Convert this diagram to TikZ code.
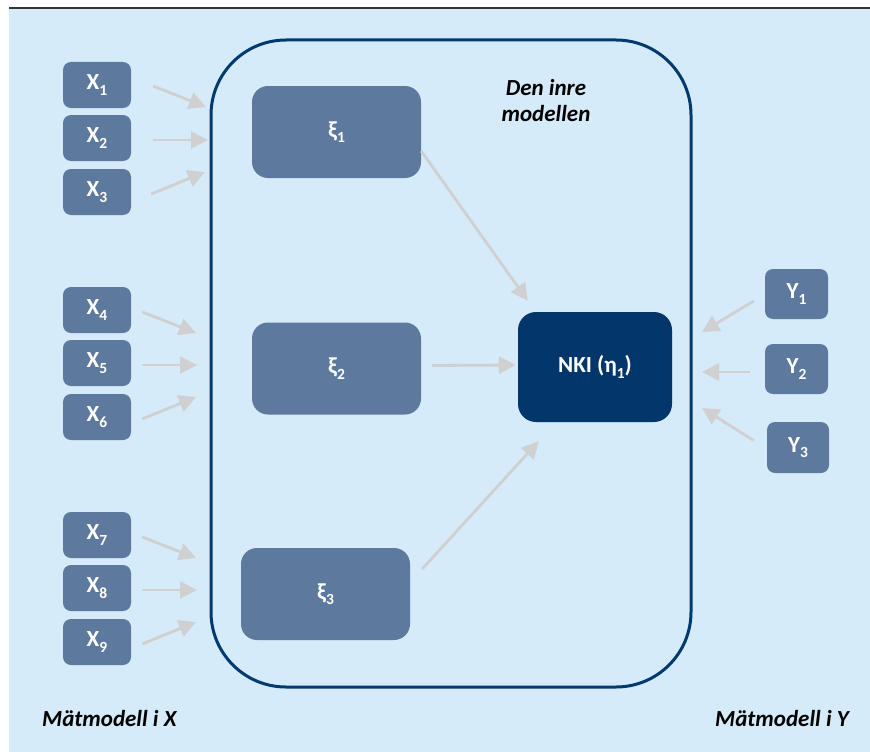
\documentclass[tikz,border=0pt]{standalone}
\usepackage{fontspec}
\setmainfont{Carlito}
\usetikzlibrary{arrows.meta}
\definecolor{bg}{HTML}{D5EBF9}
\definecolor{boxc}{HTML}{5D7A9E}
\definecolor{navy}{HTML}{03376B}
\definecolor{framec}{HTML}{003A70}
\definecolor{arrc}{HTML}{D0D0D0}
\definecolor{toplinec}{HTML}{333333}
\newcommand{\lowsub}[1]{\raisebox{-0.24em}{\fontsize{15.5}{16}\selectfont #1}}
\begin{document}
\begin{tikzpicture}[x=1pt,y=-1pt,
  mbox/.style={fill=boxc, rounded corners=8pt, minimum width=68pt, minimum height=46pt, inner sep=0pt, text=white, font=\fontsize{23}{27}\selectfont\bfseries},
  ybox/.style={mbox, minimum width=63pt, minimum height=50pt},
  lbox/.style={mbox, rounded corners=16pt, minimum width=169pt, minimum height=92pt},
  nki/.style={mbox, fill=navy, rounded corners=18pt, minimum width=154pt, minimum height=110pt},
  arr/.style={draw=arrc, line width=2.8pt, -{Triangle[length=17pt,width=17pt]}},
  lab/.style={font=\fontsize{23}{26}\selectfont\bfseries\itshape, text=black, align=center, inner sep=0pt}]
\useasboundingbox (0,0) rectangle (870,752);
\fill[bg] (9,8) rectangle (870,752);
\draw[toplinec, line width=1.5pt] (9,8) -- (870,8);

% inner model frame
\node (inre) [draw=framec, line width=3pt, rounded corners=75pt, minimum width=480pt, minimum height=647pt, inner sep=0pt] at (451,363.5) {};
\node (titel) [lab] at (546,101) {Den inre\\modellen};

% measurement boxes X
\node (X1) [mbox] at (97,85) {X\lowsub{1}};
\node (X2) [mbox] at (97,138) {X\lowsub{2}};
\node (X3) [mbox] at (97,192) {X\lowsub{3}};
\node (X4) [mbox] at (97,310) {X\lowsub{4}};
\node (X5) [mbox] at (97,363) {X\lowsub{5}};
\node (X6) [mbox] at (97,417) {X\lowsub{6}};
\node (X7) [mbox] at (97,535) {X\lowsub{7}};
\node (X8) [mbox] at (97,588) {X\lowsub{8}};
\node (X9) [mbox] at (97,642) {X\lowsub{9}};

% latent variables
\node (xi1) [lbox] at (336.5,132) {ξ\lowsub{1}};
\node (xi2) [lbox] at (336.5,368.5) {ξ\lowsub{2}};
\node (xi3) [lbox] at (325.5,594) {ξ\lowsub{3}};
\node (NKI) [nki] at (595,367) {NKI (η\lowsub{1})};

% measurement boxes Y
\node (Y1) [ybox] at (796.5,294) {Y\lowsub{1}};
\node (Y2) [ybox] at (796.5,369) {Y\lowsub{2}};
\node (Y3) [ybox, minimum width=62pt, minimum height=51pt] at (798,447.5) {Y\lowsub{3}};

% arrow tip coordinates at the frame
\coordinate (t1) at (206,107);
\coordinate (t2) at (208,140);
\coordinate (t3) at (205,172);
\coordinate (t4) at (196,333);
\coordinate (t5) at (197,365);
\coordinate (t6) at (196,397);
\coordinate (t7) at (196,558);
\coordinate (t8) at (197,590);
\coordinate (t9) at (196,622);
\coordinate (ty1) at (702,332);
\coordinate (ty2) at (702,372);
\coordinate (ty3) at (702,408);

\draw[arr] ([shift={(22,1)}]X1.east) -- (t1);
\draw[arr] ([shift={(22,2)}]X2.east) -- (t2);
\draw[arr] ([shift={(20,2)}]X3.east) -- (t3);
\draw[arr] ([shift={(11,2)}]X4.east) -- (t4);
\draw[arr] ([shift={(11,2)}]X5.east) -- (t5);
\draw[arr] ([shift={(11,2)}]X6.east) -- (t6);
\draw[arr] ([shift={(11,2)}]X7.east) -- (t7);
\draw[arr] ([shift={(11,2)}]X8.east) -- (t8);
\draw[arr] ([shift={(11,2)}]X9.east) -- (t9);

\draw[arr] ([shift={(0,19)}]xi1.east) -- ([shift={(10,-11)}]NKI.north west);
\draw[arr] ([shift={(11,-3)}]xi2.east) -- ([shift={(-2,-2)}]NKI.west);
\draw[arr] ([shift={(12,-25)}]xi3.east) -- ([shift={(21,19)}]NKI.south west);

\draw[arr] ([shift={(-11,7)}]Y1.west) -- (ty1);
\draw[arr] ([shift={(-15,3)}]Y2.west) -- (ty2);
\draw[arr] ([shift={(-13,-7)}]Y3.west) -- (ty3);

% bottom labels
\node (mx) [lab, anchor=west] at (42,719) {Mätmodell i X};
\node (my) [lab, anchor=east] at (849,719) {Mätmodell i Y};
\end{tikzpicture}
\end{document}
